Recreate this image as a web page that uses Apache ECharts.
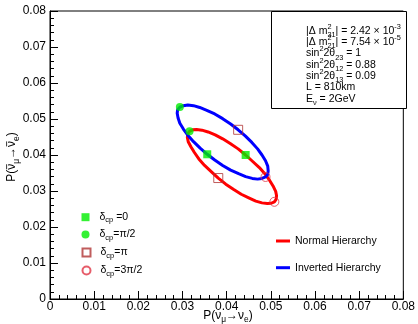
<!DOCTYPE html>
<html>
<head>
<meta charset="utf-8">
<script src="https://cdn.jsdelivr.net/npm/echarts@6/dist/echarts.min.js"></script>
<style>
html,body{margin:0;padding:0;background:#fff;}
#c{width:418px;height:324px;}
</style>
</head>
<body>
<div id="c"></div>
<script>
// ---- data ----
const tickValues = [0, 0.01, 0.02, 0.03, 0.04, 0.05, 0.06, 0.07, 0.08];
const tickLabels = ['0', '0.01', '0.02', '0.03', '0.04', '0.05', '0.06', '0.07', '0.08'];

// Normal hierarchy ellipse (red)
const nhX = [0.0443,0.0426,0.0408,0.0391,0.0374,0.0358,0.0344,0.0332,0.0323,0.0316,0.0312,0.0311,0.0313,0.0319,0.0327,0.0337,0.0350,0.0365,0.0381,0.0398,0.0416,0.0433,0.0450,0.0466,0.0480,0.0492,0.0501,0.0508,0.0512,0.0513,0.0511,0.0505,0.0497,0.0487,0.0474,0.0459];
const nhY = [0.0400,0.0417,0.0432,0.0445,0.0456,0.0464,0.0469,0.0471,0.0470,0.0466,0.0459,0.0449,0.0437,0.0423,0.0407,0.0389,0.0371,0.0354,0.0336,0.0319,0.0304,0.0291,0.0281,0.0272,0.0267,0.0265,0.0266,0.0270,0.0277,0.0287,0.0299,0.0314,0.0330,0.0347,0.0365,0.0382];
// Inverted hierarchy ellipse (blue)
const ihX = [0.0356,0.0340,0.0325,0.0312,0.0302,0.0294,0.0290,0.0288,0.0289,0.0294,0.0302,0.0312,0.0325,0.0339,0.0355,0.0373,0.0391,0.0409,0.0426,0.0442,0.0457,0.0470,0.0480,0.0488,0.0493,0.0494,0.0493,0.0488,0.0480,0.0470,0.0458,0.0443,0.0427,0.0409,0.0391,0.0373];
const ihY = [0.0402,0.0419,0.0437,0.0455,0.0472,0.0488,0.0503,0.0516,0.0526,0.0533,0.0537,0.0539,0.0537,0.0532,0.0524,0.0514,0.0501,0.0486,0.0470,0.0453,0.0435,0.0417,0.0400,0.0384,0.0369,0.0356,0.0346,0.0339,0.0335,0.0333,0.0335,0.0340,0.0348,0.0358,0.0371,0.0386];

// delta_cp marker points: order 0, pi/2, pi, 3pi/2
const deltaNames = ['δcp =0', 'δcp=π/2', 'δcp=π', 'δcp=3π/2'];
const nhDeltaX = [0.0443, 0.0316, 0.0381, 0.0508];
const nhDeltaY = [0.0400, 0.0466, 0.0336, 0.0270];
const ihDeltaX = [0.0356, 0.0294, 0.0426, 0.0488];
const ihDeltaY = [0.0402, 0.0533, 0.0470, 0.0339];

const lineNames = ['Normal Hierarchy', 'Inverted Hierarchy'];

// ---- build chart ----
const FONT = '"Liberation Sans", Arial, Helvetica, sans-serif';
const chart = echarts.init(document.getElementById('c'), null, {renderer: 'canvas'});

function closed(xs, ys) {
  const d = xs.map((x, i) => [x, ys[i]]);
  d.push([xs[0], ys[0]]);
  return d;
}

const markerStyles = [
  {symbol: 'rect', color: '#00ee00', empty: false},
  {symbol: 'circle', color: '#00ee00', empty: false},
  {symbol: 'rect', color: '#b03535', empty: true},
  {symbol: 'circle', color: '#e03545', empty: true}
];

const series = [
  {
    name: lineNames[0], type: 'line', data: closed(nhX, nhY), smooth: false,
    showSymbol: false, symbol: 'none', z: 2,
    lineStyle: {color: '#ff0000', width: 3, join: 'round'}, itemStyle: {color: '#ff0000'}
  },
  {
    name: lineNames[1], type: 'line', data: closed(ihX, ihY), smooth: false,
    showSymbol: false, symbol: 'none', z: 2,
    lineStyle: {color: '#0000ff', width: 3, join: 'round'}, itemStyle: {color: '#0000ff'}
  }
];
deltaNames.forEach((n, i) => {
  const st = markerStyles[i];
  series.push({
    name: n, type: 'scatter', z: 4,
    data: [[nhDeltaX[i], nhDeltaY[i]], [ihDeltaX[i], ihDeltaY[i]]],
    symbol: st.symbol,
    symbolSize: st.empty ? 9 : 8,
    itemStyle: st.empty ? {color: 'rgba(255,255,255,0)', borderColor: st.color, borderWidth: 1}
                        : {color: st.color},
    emphasis: {disabled: true}
  });
});

const legendRich = {
  d: {fontSize: 10.5, fontFamily: FONT, color: '#000'},
  s: {fontSize: 7.5, fontFamily: FONT, color: '#000', padding: [6, 0, 0, 0]},
  t: {fontSize: 10.5, fontFamily: FONT, color: '#000'}
};
const markerRowCenters = [216.7, 234, 252, 270];
const legends = deltaNames.map((n, i) => ({
  data: [n], left: 81.5, top: markerRowCenters[i] - 5, orient: 'vertical',
  padding: 0, itemWidth: 8, itemHeight: 8, selectedMode: false,
  formatter: name => '{d|δ}{s|cp}{t|' + name.replace('δcp', '') + '}',
  textStyle: {padding: [0, 0, 0, 5], rich: legendRich}
}));
const lineRowCenters = [240, 266.7];
lineNames.forEach((n, i) => {
  legends.push({
    data: [n], left: 276, top: lineRowCenters[i] - 4.5, orient: 'vertical',
    padding: 0, itemWidth: 14, itemHeight: 3, icon: 'rect', selectedMode: false,
    textStyle: {fontSize: 10.5, fontFamily: FONT, color: '#000'}
  });
});

// text helper for sub/superscripts
const mctx = document.createElement('canvas').getContext('2d');
function tw(t, size) { mctx.font = size + 'px ' + FONT; return mctx.measureText(t).width; }
function pieces(list, x0, yc, size, align) {
  // list: [text, kind] kind: n, sub, sup, sup0 (no advance), bar (overlined)
  const items = [];
  let x = 0;
  list.forEach(([t, k]) => {
    let fs = size, dy = 0;
    if (k === 'sub') { fs = size * 0.7; dy = size * 0.38; }
    if (k === 'sup' || k === 'sup0') { fs = size * 0.7; dy = -size * 0.4; }
    const w = tw(t, fs);
    items.push({t, fs, x, dy, k, w});
    if (k !== 'sup0') x += w;
  });
  const total = x;
  const off = align === 'center' ? -total / 2 : 0;
  const els = [];
  items.forEach(it => {
    els.push({
      type: 'text', x: x0 + it.x + off, y: yc + it.dy, silent: true,
      style: {text: it.t, fontSize: it.fs, fontFamily: FONT, fill: '#000',
              textAlign: 'left', textVerticalAlign: 'middle'}
    });
    if (it.k === 'bar') {
      els.push({
        type: 'line', silent: true,
        shape: {x1: x0 + it.x + off + 0.5, y1: yc - size * 0.45, x2: x0 + it.x + off + it.w - 0.5, y2: yc - size * 0.45},
        style: {stroke: '#000', lineWidth: 0.8}
      });
    }
  });
  return els;
}

const boxLines = [
  [['|Δ m', 'n'], ['2', 'sup0'], ['31', 'sub'], ['| = 2.42 × 10', 'n'], ['-3', 'sup']],
  [['|Δ m', 'n'], ['2', 'sup0'], ['21', 'sub'], ['| = 7.54 × 10', 'n'], ['-5', 'sup']],
  [['sin', 'n'], ['2', 'sup'], ['2θ', 'n'], ['23', 'sub'], [' = 1', 'n']],
  [['sin', 'n'], ['2', 'sup'], ['2θ', 'n'], ['12', 'sub'], [' = 0.88', 'n']],
  [['sin', 'n'], ['2', 'sup'], ['2θ', 'n'], ['13', 'sub'], [' = 0.09', 'n']],
  [['L = 810km', 'n']],
  [['E', 'n'], ['ν', 'sub'], [' = 2GeV', 'n']]
];
const graphics = [
  {type: 'rect', shape: {x: 271.5, y: 11.5, width: 135, height: 97}, z: 10,
   style: {fill: '#fff', stroke: '#000', lineWidth: 1}, silent: true}
];
boxLines.forEach((ln, i) => {
  pieces(ln, 306, 31 + i * 11.3, 10.5, 'left').forEach(e => { e.z = 11; graphics.push(e); });
});
// x axis title
pieces([['P(ν', 'n'], ['μ', 'sub'], ['→ν', 'n'], ['e', 'sub'], [')', 'n']], 228, 315.5, 12, 'center')
  .forEach(e => graphics.push(e));
// y axis title (rotated)
graphics.push({
  type: 'group', x: 12, y: 157, rotation: Math.PI / 2,
  children: pieces([['P(', 'n'], ['ν', 'bar'], ['μ', 'sub'], ['→', 'n'], ['ν', 'bar'], ['e', 'sub'], [')', 'n']], 0, 0, 12, 'center')
});

function tickFmt(v) {
  const i = tickValues.findIndex(t => Math.abs(t - v) < 1e-9);
  return i >= 0 ? tickLabels[i] : '';
}

const axisCommon = {
  type: 'value', min: 0, max: 0.08, interval: 0.01,
  axisLine: {show: true, lineStyle: {color: '#000', width: 1}},
  axisTick: {show: true, inside: true, length: 8, lineStyle: {color: '#000'}},
  minorTick: {show: true, splitNumber: 5, length: 4, lineStyle: {color: '#000'}},
  splitLine: {show: false},
  axisLabel: {color: '#000', fontSize: 12, fontFamily: FONT, formatter: tickFmt,
              showMinLabel: true, showMaxLabel: true}
};

chart.setOption({
  animation: false,
  backgroundColor: '#fff',
  grid: {left: 50, right: 12, top: 11, bottom: 25, show: true, borderColor: '#000', borderWidth: 1},
  xAxis: Object.assign({}, axisCommon, {axisLabel: Object.assign({}, axisCommon.axisLabel, {margin: 2})}),
  yAxis: Object.assign({}, axisCommon, {axisLabel: Object.assign({}, axisCommon.axisLabel, {margin: 4})}),
  legend: legends,
  series: series,
  graphic: graphics
});
</script>
</body>
</html>
